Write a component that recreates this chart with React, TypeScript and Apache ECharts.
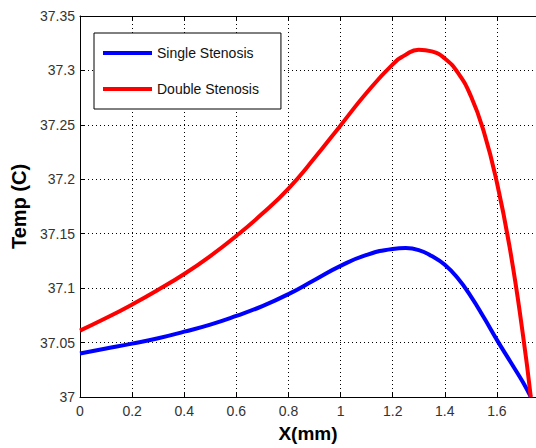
import React, { useEffect, useRef } from "react";
import * as echarts from "echarts";

const xValues = [0, 0.1, 0.2, 0.3, 0.4, 0.5, 0.6, 0.7, 0.8, 0.9, 1.0, 1.1, 1.2, 1.25, 1.3, 1.35, 1.4, 1.45, 1.5, 1.55, 1.6, 1.65, 1.7, 1.73];
const singleStenosis = [37.04, 37.0445, 37.049, 37.054, 37.06, 37.0665, 37.0745, 37.0835, 37.0945, 37.1075, 37.1205, 37.1305, 37.136, 37.1368, 37.135, 37.1295, 37.1215, 37.109, 37.0925, 37.073, 37.0525, 37.033, 37.0135, 37.0];
const doubleStenosis = [37.061, 37.0725, 37.085, 37.0985, 37.113, 37.1295, 37.148, 37.1685, 37.1915, 37.2195, 37.2495, 37.2795, 37.3055, 37.3145, 37.319, 37.3175, 37.311, 37.298, 37.2765, 37.2435, 37.197, 37.136, 37.057, 37.0];
const seriesNames = ["Single Stenosis", "Double Stenosis"];

const fmt = (v: number) => String(Number(v.toFixed(2)));

export default function App() {
  const ref = useRef<HTMLDivElement>(null);
  useEffect(() => {
    if (!ref.current) return;
    const chart = echarts.init(ref.current, null, { renderer: "svg" });
    const font = "Arial, 'Liberation Sans', Helvetica, sans-serif";
    const dotted = { color: "#000", width: 1, type: [1, 3] as any };
    chart.setOption({
      animation: false,
      backgroundColor: "#fff",
      textStyle: { fontFamily: font },
      grid: { left: 80, top: 16, bottom: 48, right: -5, containLabel: false },
      legend: {
        left: 94,
        top: 33,
        orient: "vertical",
        selectedMode: false,
        data: seriesNames,
        icon: "rect",
        itemWidth: 49,
        itemHeight: 4,
        itemGap: 20,
        padding: [12, 22, 12, 9],
        borderColor: "#000",
        borderWidth: 1,
        backgroundColor: "#fff",
        textStyle: { fontSize: 14, color: "#111", fontFamily: font, lineHeight: 16 },
      },
      xAxis: [
        {
          type: "value",
          min: 0,
          max: 1.75,
          interval: 0.2,
          position: "bottom",
          name: "X(mm)",
          nameLocation: "middle",
          nameGap: 27,
          nameTextStyle: { fontSize: 19, fontWeight: "bold", color: "#000", fontFamily: font },
          axisLine: { show: true, lineStyle: { color: "#000", width: 1 } },
          axisTick: { show: true, inside: true, length: 4, lineStyle: { color: "#000" } },
          axisLabel: { fontSize: 14, color: "#333", margin: 7, showMaxLabel: false, formatter: fmt, fontFamily: font },
          splitLine: { show: true, lineStyle: dotted },
        },
        {
          type: "value",
          min: 0,
          max: 1.75,
          interval: 0.2,
          position: "top",
          axisLine: { show: true, lineStyle: { color: "#000", width: 1 } },
          axisTick: { show: true, inside: true, length: 4, lineStyle: { color: "#000" } },
          axisLabel: { show: false },
          splitLine: { show: false },
        },
      ],
      yAxis: {
        type: "value",
        min: 37,
        max: 37.35,
        interval: 0.05,
        name: "Temp (C)",
        nameLocation: "middle",
        nameGap: 44,
        nameRotate: 90,
        nameTextStyle: { fontSize: 20, fontWeight: "bold", color: "#000", fontFamily: font },
        axisLine: { show: true, lineStyle: { color: "#000", width: 1 } },
        axisTick: { show: true, inside: true, length: 4, lineStyle: { color: "#000" } },
        axisLabel: { fontSize: 14, color: "#333", margin: 5, formatter: fmt, fontFamily: font },
        splitLine: { show: true, lineStyle: dotted },
      },
      series: [
        {
          name: seriesNames[0],
          type: "line",
          xAxisIndex: 0,
          data: xValues.map((x, i) => [x, singleStenosis[i]]),
          symbol: "none",
          smooth: 0.5,
          color: "#0000ff",
          lineStyle: { color: "#0000ff", width: 4 },
          itemStyle: { color: "#0000ff" },
        },
        {
          name: seriesNames[1],
          type: "line",
          xAxisIndex: 0,
          data: xValues.map((x, i) => [x, doubleStenosis[i]]),
          symbol: "none",
          smooth: 0.5,
          color: "#ff0000",
          lineStyle: { color: "#ff0000", width: 4 },
          itemStyle: { color: "#ff0000" },
        },
      ],
    });
    return () => chart.dispose();
  }, []);
  return (
    <div
      ref={ref}
      style={{ position: "fixed", left: 0, top: 0, width: 536, height: 448, background: "#fff" }}
    />
  );
}
